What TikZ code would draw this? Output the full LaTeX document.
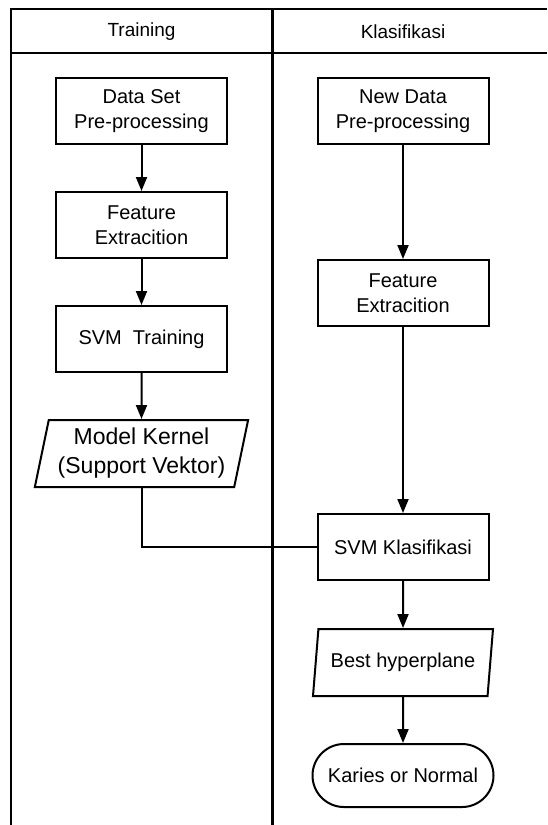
\documentclass[tikz,border=0pt]{standalone}
\usepackage{fontspec}
\setmainfont{Liberation Sans}
\usetikzlibrary{arrows.meta,positioning,shapes.geometric,shapes.misc}
\tikzset{
    %Define standard arrow tip
    >={Triangle[length=7pt,width=5.5pt]},
    %Define style for boxes
    box/.style={
           rectangle,
           draw=black, line width=1pt,
           minimum width=85.5pt,
           minimum height=33pt,
           inner sep=0pt,
           font=\fontsize{10}{12.5}\selectfont,
           align=center},
    % Define style for data (parallelogram)
    data/.style={
           trapezium,
           trapezium left angle=76,
           trapezium right angle=104,
           trapezium stretches=true,
           draw=black, line width=1pt,
           minimum height=33.5pt,
           inner sep=0pt,
           font=\fontsize{10}{12.5}\selectfont,
           align=center},
    % Define style for end node
    hasil/.style={
           rounded rectangle,
           draw=black, line width=1pt,
           minimum width=90.5pt,
           minimum height=31.5pt,
           inner sep=0pt,
           font=\fontsize{10}{12.5}\selectfont},
    % Define arrow style
    flow/.style={
           ->,
           line width=1pt},
    link/.style={
           line width=1pt},
    lane/.style={
           line width=1pt},
    header/.style={
           font=\fontsize{9.5}{11}\selectfont}
}

\begin{document}
\begin{tikzpicture}
    \useasboundingbox (0,0) rectangle (273.5pt,-412.5pt);
 %lanes
    \draw[lane] (5.5pt,-412.5pt) -- (5.5pt,-4.5pt) -- (273.5pt,-4.5pt);
    \draw[lane] (5.5pt,-26.5pt) -- (273.5pt,-26.5pt);
    \draw[lane, line width=1.5pt] (136pt,-4.5pt) -- (136pt,-412.5pt);
    \node[header] (htrain) at (70.75pt,-15.8pt) {Training};
    \node[header] (hklas) at (201.5pt,-15.8pt) {Klasifikasi};
 %nodes training
    \node[box] (dataset) at (70.75pt,-55.5pt) {Data Set\\Pre-processing};
    \node[box, below=23pt of dataset] (feat1) {Feature\\Extracition};
    \node[box, below=23pt of feat1] (train) {SVM\ \ Training};
    \node[data, minimum width=107.5pt, font=\fontsize{11.5}{14.5}\selectfont,
          below=23pt of train] (kernel) {Model Kernel\\(Support Vektor)};
 %nodes klasifikasi
    \node[box] (newdata) at (201.5pt,-55.5pt) {New Data\\Pre-processing};
    \node[box, below=57pt of newdata] (feat2) {Feature\\Extracition};
    \node[box, below=93pt of feat2] (klas) {SVM Klasifikasi};
    \node[data, minimum width=90pt, below=23.5pt of klas] (hyper) {Best hyperplane};
    \node[hasil, below=23pt of hyper] (hasil) {Karies or Normal};
 %edges
    \draw[flow] (dataset) -- (feat1);
    \draw[flow] (feat1) -- (train);
    \draw[flow] (train) -- (kernel);
    \draw[link] (kernel.south) |- (klas.west);
    \draw[flow] (newdata) -- (feat2);
    \draw[flow] (feat2) -- (klas);
    \draw[flow] (klas) -- (hyper);
    \draw[flow] (hyper) -- (hasil);
\end{tikzpicture}
\end{document}
